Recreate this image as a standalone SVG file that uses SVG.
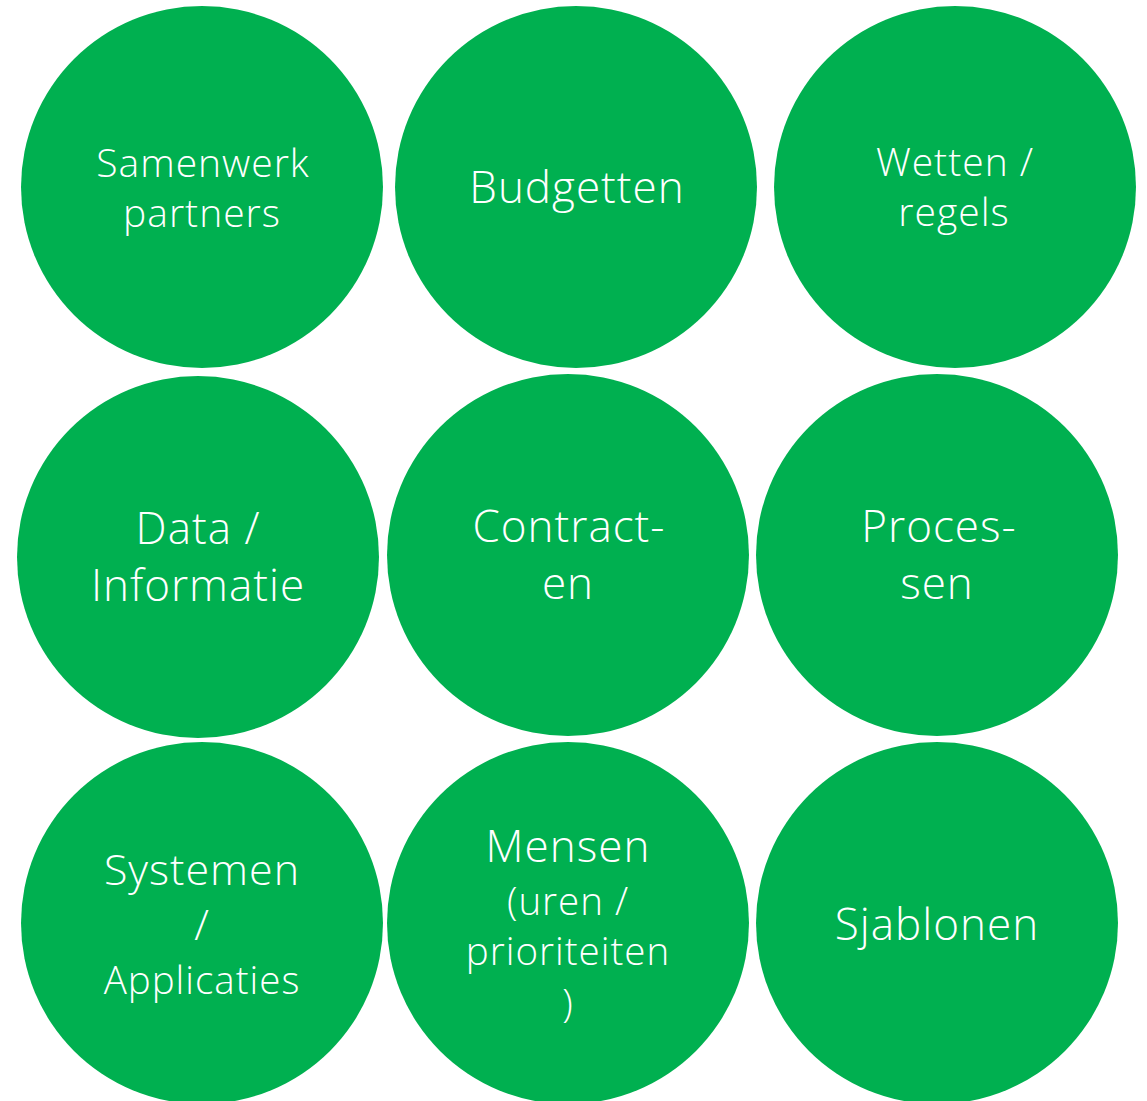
<svg xmlns="http://www.w3.org/2000/svg" width="1147" height="1101" viewBox="0 0 1147 1101">
<style>
.c{fill:#00B050}
.t{fill:#ffffff;font-family:"Open Sans","Noto Sans","Liberation Sans",sans-serif;font-weight:350;text-anchor:middle;letter-spacing:1px}
</style>
<rect width="1147" height="1101" fill="#ffffff"/>
<g id="n1"><circle class="c" cx="202" cy="187" r="181"/><text class="t" font-size="39"><tspan x="203" y="177">Samenwerk</tspan><tspan x="202" y="227">partners</tspan></text></g>
<g id="n2"><circle class="c" cx="576" cy="187" r="181"/><text class="t" font-size="44" x="577" y="203">Budgetten</text></g>
<g id="n3"><circle class="c" cx="955" cy="187" r="181"/><text class="t" font-size="39"><tspan x="955" y="176">Wetten /</tspan><tspan x="954" y="226">regels</tspan></text></g>
<g id="n4"><circle class="c" cx="198" cy="557" r="181"/><text class="t" font-size="44"><tspan x="198" y="544">Data /</tspan><tspan x="198" y="601">Informatie</tspan></text></g>
<g id="n5"><circle class="c" cx="568" cy="555" r="181"/><text class="t" font-size="44"><tspan x="569" y="542">Contract-</tspan><tspan x="568" y="599">en</tspan></text></g>
<g id="n6"><circle class="c" cx="937" cy="555" r="181"/><text class="t" font-size="44"><tspan x="939" y="542">Proces-</tspan><tspan x="937" y="599">sen</tspan></text></g>
<g id="n7"><circle class="c" cx="202" cy="923" r="181"/><text class="t" font-size="43"><tspan x="202" y="885">Systemen</tspan><tspan x="202" y="940">/</tspan><tspan x="202" y="994" font-size="38.5">Applicaties</tspan></text></g>
<g id="n8"><circle class="c" cx="568" cy="923" r="181"/><text class="t" font-size="38.5"><tspan x="568" y="862" font-size="44">Mensen</tspan><tspan x="568" y="915">(uren /</tspan><tspan x="568" y="965">prioriteiten</tspan><tspan x="568" y="1017">)</tspan></text></g>
<g id="n9"><circle class="c" cx="937" cy="923" r="181"/><text class="t" font-size="44" x="937" y="940">Sjablonen</text></g>
<g id="connectors"></g>
</svg>
